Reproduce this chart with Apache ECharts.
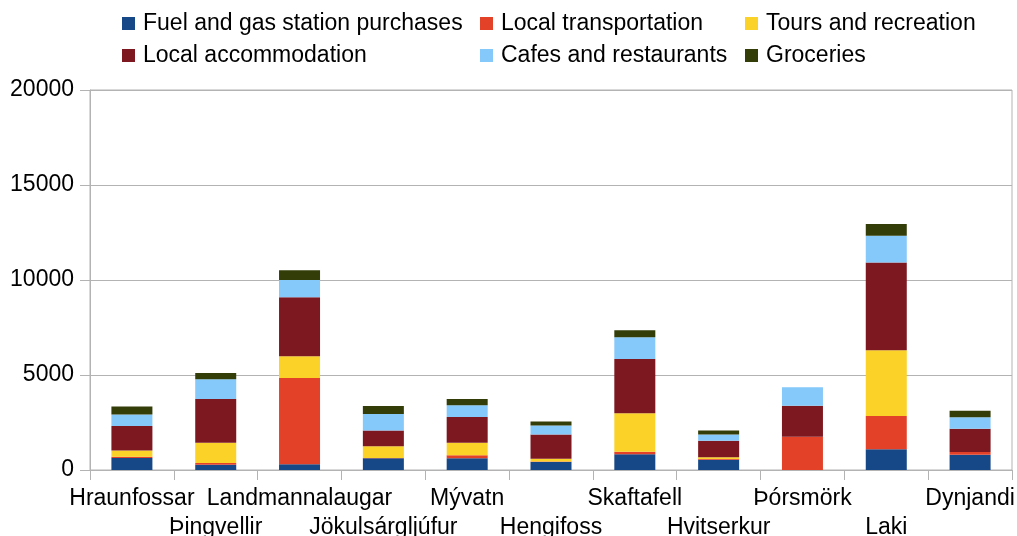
<!DOCTYPE html>
<html>
<head>
<meta charset="utf-8">
<script src="https://cdn.jsdelivr.net/npm/echarts@6/dist/echarts.min.js"></script>
<style>
html,body{margin:0;padding:0;background:#fff;}
#chart{width:1017px;height:536px;}
</style>
</head>
<body>
<div id="chart"></div>
<script>
const categories = ['Hraunfossar','Þingvellir','Landmannalaugar','Jökulsárgljúfur','Mývatn','Hengifoss','Skaftafell','Hvitserkur','Þórsmörk','Laki','Dynjandi'];
const fuel          = [630, 280, 300, 615, 615, 420, 825, 545, 0, 1090, 805];
const transport     = [70, 90, 4545, 20, 160, 30, 140, 30, 1755, 1755, 140];
const tours         = [330, 1070, 1140, 615, 665, 140, 2020, 90, 0, 3455, 0];
const accommodation = [1280, 2300, 3105, 825, 1350, 1280, 2860, 875, 1630, 4615, 1230];
const cafes         = [615, 1035, 910, 875, 615, 475, 1140, 335, 965, 1420, 595];
const groceries     = [420, 330, 510, 420, 335, 210, 370, 210, 0, 615, 350];
const yTicks = [0, 5000, 10000, 15000, 20000];

const seriesDefs = [
  {name:'Fuel and gas station purchases', data:fuel, color:'#164887'},
  {name:'Local transportation', data:transport, color:'#e34128'},
  {name:'Tours and recreation', data:tours, color:'#fad228'},
  {name:'Local accommodation', data:accommodation, color:'#7e1820'},
  {name:'Cafes and restaurants', data:cafes, color:'#85c8fa'},
  {name:'Groceries', data:groceries, color:'#323d08'}
];

const font = 'Liberation Sans, Arial, sans-serif';
const legendText = {fontSize:23, color:'#000', fontFamily:font, padding:[0,0,0,3]};
function mkLegend(left, names){
  return {orient:'vertical', left:left, top:12, itemWidth:13, itemHeight:13, itemGap:9,
    icon:'rect', data:names, textStyle:legendText, selectedMode:false, padding:0};
}

const chart = echarts.init(document.getElementById('chart'));
chart.setOption({
  animation:false,
  backgroundColor:'#fff',
  legend:[
    mkLegend(122, [seriesDefs[0].name, seriesDefs[3].name]),
    mkLegend(480, [seriesDefs[1].name, seriesDefs[4].name]),
    mkLegend(745, [seriesDefs[2].name, seriesDefs[5].name])
  ],
  grid:{left:90, right:5, top:90, bottom:66, outerBoundsMode:'none', containLabel:false,
    show:true, borderColor:'#b3b3b3', borderWidth:1},
  xAxis:{
    type:'category', data:categories,
    axisLine:{lineStyle:{color:'#b3b3b3'}},
    axisTick:{show:true, length:10, lineStyle:{color:'#b3b3b3'}},
    axisLabel:{interval:0, hideOverlap:false, margin:14, fontSize:23, color:'#000', fontFamily:font, lineHeight:29,
      formatter:function(v, i){ return i % 2 ? '\n' + v : v; }}
  },
  yAxis:{
    type:'value', min:yTicks[0], max:yTicks[yTicks.length-1], interval:5000,
    axisLine:{show:true, lineStyle:{color:'#b3b3b3'}},
    axisTick:{show:true, length:10, lineStyle:{color:'#b3b3b3'}},
    splitLine:{lineStyle:{color:'#b3b3b3'}},
    axisLabel:{margin:16, fontSize:23, color:'#000', fontFamily:font,
      formatter:function(v){ return String(v); }}
  },
  series: seriesDefs.map(s => ({
    name:s.name, type:'bar', stack:'total', data:s.data, barWidth:41,
    itemStyle:{color:s.color}
  }))
});
</script>
</body>
</html>
